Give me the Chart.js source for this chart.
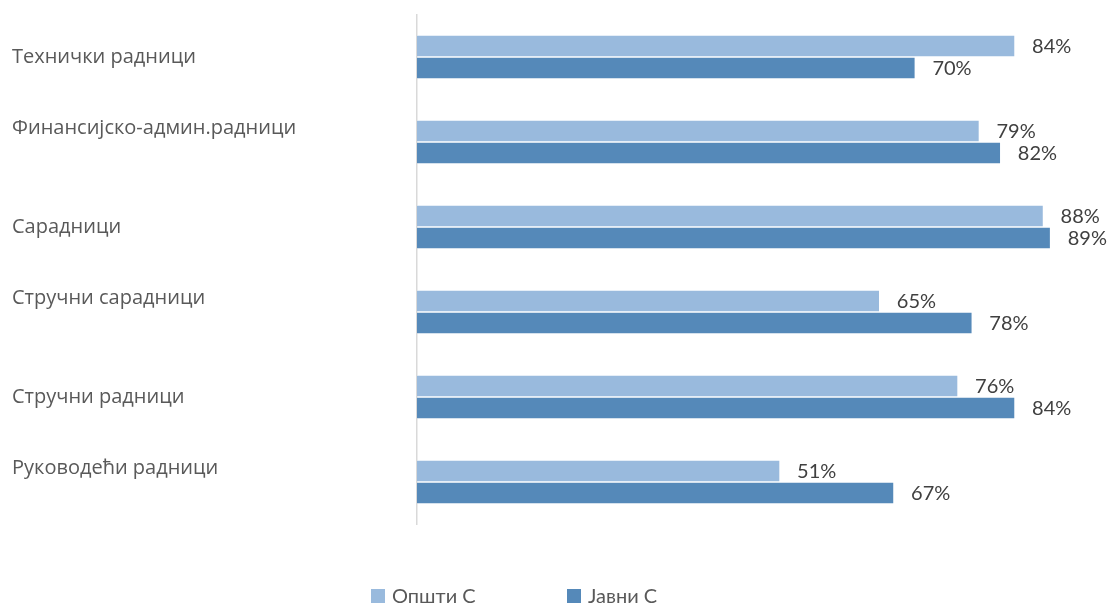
<!DOCTYPE html>
<html><head><meta charset="utf-8">
<script src="https://cdn.jsdelivr.net/npm/chart.js@4/dist/chart.umd.min.js"></script>
<style>html,body{margin:0;padding:0;background:#fff}#wrap{width:1109px;height:606px}</style>
</head><body><div id="wrap"><canvas id="c"></canvas></div>
<script>
const categories = ["Технички радници","Финансијско-админ.радници","Сарадници","Стручни сарадници","Стручни радници","Руководећи радници"];
const twoLine = [false,true,false,true,false,true];
const seriesNames = ["Општи С","Јавни С"];
const opstiValues = [84,79,88,65,76,51];
const javniValues = [70,82,89,78,84,67];
const seriesColors = ["#99BADD","#5589B9"];

const VFONT = "Lato, 'Open Sans', sans-serif";
const CFONT = "'Open Sans', Lato, sans-serif";

const valueLabels = {
  id:'valueLabels',
  afterDatasetsDraw(chart){
    const ctx = chart.ctx;
    ctx.save();
    ctx.font = "20px " + VFONT;
    ctx.fillStyle = "#404040";
    ctx.textAlign = "left";
    ctx.textBaseline = "middle";
    chart.data.datasets.forEach((ds,i)=>{
      chart.getDatasetMeta(i).data.forEach((el,j)=>{
        ctx.fillText(ds.data[j] + "%", el.x + 17, el.y + 1);
      });
    });
    ctx.restore();
  }
};
const customLegend = {
  id:'customLegend',
  afterDraw(chart){
    const ctx = chart.ctx;
    ctx.save();
    ctx.font = "20px " + VFONT;
    ctx.textBaseline = "middle";
    ctx.textAlign = "left";
    const xs = [371, 567];
    chart.data.datasets.forEach((ds,i)=>{
      ctx.fillStyle = ds.backgroundColor;
      ctx.fillRect(xs[i], 589, 14, 14);
      ctx.fillStyle = "#595959";
      ctx.fillText(ds.label, xs[i] + 21, 597);
    });
    ctx.restore();
  }
};

new Chart(document.getElementById('c'), {
  type:'bar',
  data:{
    labels: categories.map((c,i)=> twoLine[i] ? [c,""] : c),
    datasets:[
      {label:seriesNames[0], data:opstiValues, backgroundColor:seriesColors[0], borderColor:"rgba(255,255,255,0.5)", borderWidth:0.8},
      {label:seriesNames[1], data:javniValues, backgroundColor:seriesColors[1], borderColor:"rgba(255,255,255,0.5)", borderWidth:0.8}
    ]
  },
  options:{
    indexAxis:'y',
    responsive:true,
    maintainAspectRatio:false,
    animation:false,
    datasets:{bar:{categoryPercentage:0.518, barPercentage:1}},
    layout:{padding:{left:12, right:15.6, top:14.5, bottom:81.5}},
    plugins:{legend:{display:false}, tooltip:{enabled:false}},
    scales:{
      x:{display:false, min:0, max:95},
      y:{
        grid:{display:false, drawTicks:false},
        border:{display:true, color:"#D9D9D9", width:1.5},
        ticks:{crossAlign:'far', padding:0, color:"#595959", font:{family:CFONT, size:20, lineHeight:'28px'}},
        afterFit(s){ s.width = 405; s.paddingTop = 0; s.paddingBottom = 0; }
      }
    }
  },
  plugins:[valueLabels, customLegend]
});
</script>
</body></html>
